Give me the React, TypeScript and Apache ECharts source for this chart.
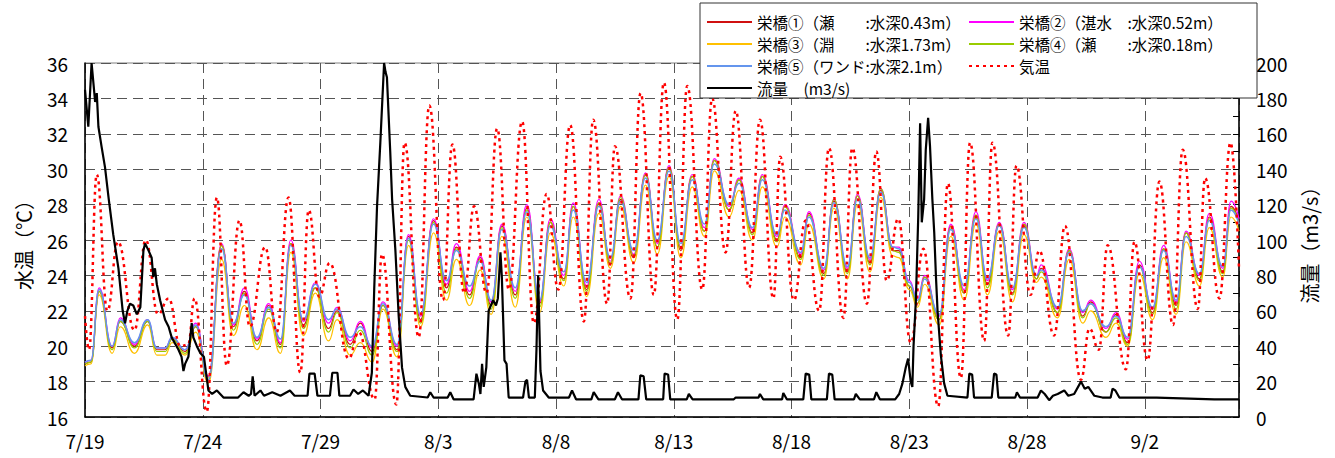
import React, { useEffect, useRef } from "react";
import * as echarts from "echarts";

// x values are days since 7/19 00:00
const xTickLabels = ["7/19", "7/24", "7/29", "8/3", "8/8", "8/13", "8/18", "8/23", "8/28", "9/2"];

const waterTimes = [
  0.0, 0.25, 0.6, 1.15, 1.5, 2.1, 2.66, 3.05, 3.4, 3.7,
  4.25, 4.7, 5.24, 5.8, 6.3, 6.77, 7.3, 7.8, 8.3, 8.74,
  9.27, 9.78, 10.34, 10.7, 11.26, 11.69, 12.19, 12.65, 13.25, 13.74,
  14.25, 14.8, 15.35, 15.77, 16.33, 16.78, 17.25, 17.7, 18.27, 18.76,
  19.3, 19.76, 20.33, 20.73, 21.3, 21.82, 22.31, 22.74, 23.3, 23.8,
  24.3, 24.8, 25.3, 25.78, 26.3, 26.72, 27.35, 27.77, 28.34, 28.76,
  29.38, 29.72, 30.39, 30.74, 31.37, 31.8, 32.37, 32.8, 33.33, 33.79,
  34.3, 34.55, 35.0, 35.35, 35.65, 36.27, 36.76, 37.33, 37.83, 38.32,
  38.82, 39.38, 39.87, 40.4, 40.6, 41.3, 41.79, 42.36, 42.7, 43.35,
  43.78, 44.27, 44.77, 45.33, 45.8, 46.33, 46.75, 47.32, 47.74, 48.31,
  48.66, 49.0,
];

const station1 = [
  19.0, 19.1, 23.1, 19.9, 21.4, 20.0, 21.4, 19.8, 19.8, 20.4,
  19.7, 21.1, 18.3, 25.7, 21.1, 23.1, 20.3, 22.3, 20.1, 25.8,
  21.2, 23.3, 21.0, 22.0, 20.1, 21.3, 19.7, 22.3, 19.8, 26.2,
  21.5, 27.1, 23.3, 25.6, 22.9, 25.0, 22.3, 26.8, 22.9, 27.8,
  22.4, 27.0, 23.8, 27.9, 23.2, 28.1, 24.6, 28.3, 25.0, 29.7,
  25.6, 30.1, 25.4, 29.6, 26.5, 30.5, 27.7, 29.4, 26.4, 29.6,
  26.0, 27.9, 25.0, 27.5, 24.1, 28.2, 24.2, 28.5, 24.7, 28.8,
  25.4, 25.4, 23.4, 22.4, 23.9, 21.5, 26.8, 23.0, 27.4, 23.5,
  26.9, 23.0, 26.8, 23.8, 24.4, 21.9, 25.4, 21.7, 22.5, 20.8,
  21.8, 20.2, 24.6, 21.9, 25.5, 22.3, 26.4, 23.8, 27.3, 24.2,
  27.9, 27.0,
];
const station2 = [
  19.1, 19.2, 23.3, 20.0, 21.6, 20.1, 21.5, 19.9, 19.9, 20.5,
  19.8, 21.3, 18.3, 25.8, 21.2, 23.3, 20.4, 22.4, 20.2, 26.0,
  21.4, 23.6, 21.3, 22.2, 20.3, 21.4, 19.9, 22.5, 20.0, 26.3,
  21.7, 27.2, 23.5, 25.8, 23.1, 25.1, 22.5, 26.9, 23.1, 28.0,
  22.5, 27.2, 24.0, 28.1, 23.4, 28.3, 24.8, 28.5, 25.2, 29.8,
  25.8, 30.2, 25.6, 29.7, 26.7, 30.6, 27.9, 29.5, 26.6, 29.7,
  26.2, 28.0, 25.2, 27.6, 24.3, 28.3, 24.4, 28.6, 24.9, 28.9,
  25.6, 25.6, 23.7, 22.7, 24.0, 21.7, 26.9, 23.2, 27.6, 23.7,
  27.0, 23.2, 27.0, 24.0, 24.6, 22.1, 25.5, 21.9, 22.6, 21.0,
  21.9, 20.4, 24.8, 22.1, 25.7, 22.5, 26.5, 24.0, 27.5, 24.4,
  28.2, 27.2,
];
const station3 = [
  18.9, 19.0, 22.9, 19.6, 21.1, 19.6, 21.2, 19.5, 19.5, 20.2,
  19.5, 20.8, 17.9, 24.9, 20.6, 22.3, 19.8, 21.6, 19.6, 25.3,
  20.6, 23.0, 20.3, 21.5, 19.5, 20.2, 19.1, 22.1, 19.4, 25.7,
  21.1, 26.4, 22.6, 24.9, 22.3, 24.3, 21.8, 26.2, 22.2, 27.3,
  21.9, 26.4, 23.4, 27.3, 22.8, 27.5, 24.4, 27.9, 24.7, 29.1,
  25.2, 29.6, 25.0, 29.0, 26.2, 29.9, 27.3, 28.8, 26.0, 29.0,
  25.6, 27.3, 24.6, 26.9, 23.8, 27.8, 23.8, 28.0, 24.2, 28.4,
  25.1, 25.0, 23.2, 22.2, 23.5, 21.2, 26.2, 22.6, 26.9, 22.9,
  26.5, 22.5, 26.3, 23.6, 23.9, 21.6, 24.9, 21.3, 22.0, 20.5,
  21.3, 20.0, 24.1, 21.5, 25.0, 21.8, 25.9, 23.4, 26.7, 23.9,
  27.3, 26.5,
];
const station4 = [
  19.0, 19.1, 23.1, 19.8, 21.4, 19.9, 21.4, 19.7, 19.7, 20.4,
  19.6, 21.1, 18.2, 25.7, 20.9, 23.0, 20.1, 22.1, 19.9, 25.8,
  21.0, 23.3, 20.8, 21.9, 19.9, 20.9, 19.5, 22.3, 19.7, 26.0,
  21.3, 27.0, 23.0, 25.5, 22.7, 24.9, 22.1, 26.7, 22.7, 27.7,
  22.2, 27.0, 23.7, 27.9, 23.1, 28.1, 24.7, 28.4, 25.1, 29.7,
  25.6, 30.1, 25.5, 29.6, 26.5, 30.5, 27.7, 29.4, 26.3, 29.6,
  25.9, 27.9, 24.9, 27.4, 24.0, 28.3, 24.1, 28.5, 24.6, 28.9,
  25.4, 25.3, 23.4, 22.4, 23.9, 21.5, 26.7, 23.0, 27.4, 23.3,
  26.9, 22.9, 26.9, 23.8, 24.2, 21.9, 25.4, 21.6, 22.4, 20.8,
  21.6, 20.1, 24.5, 21.8, 25.5, 22.1, 26.4, 23.7, 27.2, 24.1,
  27.8, 26.9,
];
const station5 = [
  19.1, 19.2, 23.2, 20.0, 21.5, 20.2, 21.5, 19.9, 19.9, 20.5,
  19.8, 21.2, 18.1, 25.5, 21.3, 22.9, 20.5, 22.2, 20.4, 25.7,
  21.5, 23.5, 21.5, 22.1, 20.5, 21.1, 20.0, 22.4, 20.1, 26.1,
  21.8, 26.9, 23.7, 25.4, 23.4, 24.8, 22.6, 26.6, 23.3, 27.6,
  22.6, 26.8, 24.2, 27.7, 23.6, 27.9, 25.0, 28.2, 25.4, 29.5,
  26.0, 29.9, 25.8, 29.4, 26.9, 30.3, 28.0, 29.2, 26.7, 29.4,
  26.3, 27.7, 25.3, 27.3, 24.4, 28.1, 24.5, 28.3, 25.0, 28.7,
  25.6, 25.5, 23.6, 22.6, 23.8, 21.8, 26.6, 23.4, 27.2, 23.8,
  26.8, 23.3, 26.7, 24.0, 24.3, 22.2, 25.3, 22.0, 22.4, 21.1,
  21.7, 20.5, 24.5, 22.2, 25.4, 22.6, 26.2, 24.1, 27.1, 24.5,
  27.7, 26.9,
];

const airTimes = [
  0.0, 0.17, 0.5, 0.95, 1.4, 2.1, 2.58, 3.1, 3.55, 4.05,
  4.38, 4.65, 5.17, 5.6, 6.02, 6.56, 7.0, 7.65, 8.14, 8.64,
  9.14, 9.5, 9.95, 10.39, 11.2, 11.62, 12.3, 12.61, 13.22, 13.57,
  14.17, 14.62, 15.2, 15.6, 16.1, 16.52, 17.05, 17.5, 18.0, 18.56,
  19.06, 19.6, 20.1, 20.6, 21.18, 21.58, 22.17, 22.5, 23.16, 23.59,
  24.15, 24.58, 25.15, 25.57, 26.21, 26.63, 27.2, 27.63, 28.2, 28.66,
  29.23, 29.52, 30.1, 30.6, 31.17, 31.59, 32.2, 32.58, 33.2, 33.6,
  34.04, 34.53, 35.06, 35.6, 36.23, 36.64, 37.19, 37.58, 38.18, 38.53,
  39.2, 39.55, 40.15, 40.52, 41.15, 41.61, 42.29, 42.65, 43.05, 43.42,
  44.2, 44.56, 45.12, 45.62, 46.2, 46.61, 47.25, 47.56, 48.17, 48.64,
  49.0,
];
const airTemps = [
  21.7, 19.8, 29.7, 22.0, 25.9, 20.9, 26.0, 21.8, 22.7, 20.0,
  20.1, 22.7, 16.3, 28.4, 18.9, 27.1, 21.1, 25.6, 20.8, 28.4,
  18.5, 27.7, 22.8, 24.7, 19.3, 20.8, 17.0, 25.2, 16.7, 31.5,
  20.5, 33.6, 22.6, 31.4, 23.0, 27.9, 23.0, 32.3, 23.2, 32.7,
  21.3, 28.6, 23.2, 32.5, 21.4, 32.8, 22.4, 31.3, 22.7, 34.3,
  22.9, 34.9, 21.5, 34.7, 23.2, 34.0, 25.3, 33.3, 23.3, 32.8,
  22.7, 30.7, 22.6, 27.1, 22.0, 31.2, 21.6, 31.2, 22.4, 31.0,
  23.7, 27.2, 20.2, 25.5, 16.6, 29.2, 18.2, 31.5, 20.3, 31.5,
  20.6, 30.2, 22.9, 25.4, 20.6, 26.8, 18.1, 21.0, 19.8, 25.7,
  18.7, 25.9, 19.2, 29.3, 21.2, 31.1, 22.1, 29.5, 22.7, 31.5,
  24.4,
];

const flowTimes = [
  0.0, 0.14, 0.28, 0.43, 0.5, 0.57, 0.7, 0.85, 1.0, 1.2,
  1.42, 1.6, 1.7, 1.8, 1.91, 2.05, 2.2, 2.35, 2.48, 2.55,
  2.7, 2.83, 2.9, 2.97, 3.05, 3.19, 3.4, 3.55, 3.68, 3.97,
  4.1, 4.18, 4.25, 4.39, 4.53, 4.6, 4.75, 4.9, 5.05, 5.24,
  5.4, 5.6, 5.88, 6.5, 6.73, 6.95, 7.05, 7.12, 7.2, 7.45,
  7.6, 7.95, 8.3, 8.7, 8.9, 9.45, 9.53, 9.75, 9.87, 10.4,
  10.5, 10.72, 10.8, 11.25, 11.4, 11.6, 11.8, 12.04, 12.18, 12.28,
  12.4, 12.54, 12.7, 12.76, 12.82, 12.96, 13.04, 13.18, 13.32, 13.46,
  13.6, 13.81, 14.55, 14.66, 14.8, 15.4, 15.51, 15.65, 16.5, 16.62,
  16.72, 16.79, 16.86, 16.93, 17.04, 17.14, 17.33, 17.45, 17.53, 17.64,
  17.7, 17.81, 17.9, 17.99, 18.6, 18.7, 18.77, 18.85, 19.1, 19.17,
  19.24, 19.34, 19.45, 19.69, 20.55, 20.68, 20.85, 21.5, 21.6, 21.8,
  22.5, 22.63, 22.8, 23.5, 23.58, 23.72, 23.83, 24.55, 24.61, 24.76,
  24.85, 25.55, 25.64, 25.8, 27.55, 27.63, 28.6, 28.66, 28.8, 29.6,
  29.65, 29.8, 30.5, 30.6, 30.75, 30.84, 31.5, 31.59, 31.73, 31.83,
  32.65, 32.73, 32.9, 33.5, 33.6, 33.75, 34.4, 34.57, 34.71, 34.85,
  34.95, 35.06, 35.13, 35.18, 35.28, 35.38, 35.46, 35.53, 35.63, 35.7,
  35.8, 35.88, 35.98, 36.06, 36.13, 36.2, 36.34, 36.48, 36.62, 37.47,
  37.55, 37.67, 37.75, 38.5, 38.6, 38.7, 38.78, 39.5, 39.57, 39.7,
  40.45, 40.59, 40.75, 40.94, 41.1, 41.3, 41.58, 41.75, 42.0, 42.29,
  42.45, 42.6, 42.86, 43.2, 43.55, 43.63, 43.75, 43.92, 45.5, 47.95,
  49.0,
];
const flows = [
  185, 164, 200, 178, 183, 164, 153, 141, 124, 103,
  84, 60, 53, 60, 64, 63, 58, 62, 94, 98,
  94, 90, 79, 84, 75, 66, 55, 51, 45, 38,
  34, 26, 30, 34, 53, 45, 40, 36, 34, 15,
  13, 15, 11, 11, 14, 12, 13, 23, 12, 15,
  12, 14, 12, 15, 12, 12, 24.5, 24.5, 12, 12,
  25, 25, 12, 12, 15.5, 13, 15, 12, 25, 72,
  119, 155, 200, 195, 192, 150, 123, 94, 57, 28,
  17, 12, 11, 14, 11, 11, 14, 10, 10, 24.5,
  19, 13, 30, 17, 28, 60, 66, 63, 67, 93,
  79, 32, 30, 11, 11, 20, 21, 11, 11, 38,
  80, 26, 15, 11, 11, 15, 10, 10, 14, 10,
  10, 14, 10, 10, 23.6, 23, 10, 10, 24.5, 24,
  10, 10, 13, 10, 10, 11, 11, 13, 10, 10,
  13.6, 10, 10, 24.5, 24, 10, 10, 24.5, 24, 10,
  10, 13, 10, 10, 14, 10, 10, 13, 19, 28,
  33, 20, 17, 40, 66, 113, 166, 110, 123, 151,
  169, 153, 123, 104, 80, 60, 35, 19, 12, 11,
  24.5, 24, 11, 11, 24.5, 24, 11, 11, 14, 11,
  11, 15, 13, 9.5, 12, 13, 15, 12, 13, 20,
  16, 17, 12, 11, 11, 16, 15, 11, 11, 10,
  10,
];

const FONT = "'Noto Sans CJK JP', 'Liberation Sans', sans-serif";

function pairs(xs: number[], ys: number[]) {
  return xs.map((x, i) => [x, ys[i]]);
}

export default function App() {
  const ref = useRef<HTMLDivElement>(null);

  useEffect(() => {
    if (!ref.current) return;
    const chart = echarts.init(ref.current, undefined, { renderer: "svg" });

    const waterSeries = (name: string, color: string, values: number[], width: number) => ({
      name,
      type: "line",
      data: pairs(waterTimes, values),
      yAxisIndex: 0,
      symbol: "none",
      smooth: 0.5,
      smoothMonotone: "x",
      lineStyle: { color, width },
      itemStyle: { color },
    });

    const legendBase = {
      orient: "vertical",
      top: 13,
      padding: 0,
      itemWidth: 45,
      itemHeight: 10,
      itemGap: 4,
      z: 10,
      itemStyle: { opacity: 0 },
      textStyle: { fontSize: 15.5, lineHeight: 18, color: "#000", fontFamily: FONT },
    };

    const option: any = {
      animation: false,
      backgroundColor: "#ffffff",
      textStyle: { fontFamily: FONT },
      grid: {
        left: 85,
        right: 96,
        top: 63,
        bottom: 41,
        show: true,
        borderColor: "#808080",
        borderWidth: 1,
      },
      xAxis: {
        type: "value",
        min: 0,
        max: 49,
        interval: 5,
        axisLine: { show: true, lineStyle: { color: "#000", width: 1.5 } },
        axisTick: { show: false },
        axisLabel: {
          color: "#000",
          fontSize: 19,
          fontFamily: FONT,
          margin: 14,
          showMaxLabel: false,
          formatter: (v: number) => (v % 5 === 0 && xTickLabels[v / 5] ? xTickLabels[v / 5] : ""),
        },
        splitLine: { show: true, lineStyle: { color: "#555", type: [10, 6], width: 1 } },
      },
      yAxis: [
        {
          type: "value",
          min: 16,
          max: 36,
          interval: 2,
          name: "水温（℃）",
          nameLocation: "middle",
          nameGap: 52,
          nameTextStyle: { color: "#000", fontSize: 20, fontFamily: FONT },
          axisLine: { show: true, lineStyle: { color: "#000", width: 1.5 } },
          axisTick: { show: false },
          axisLabel: { color: "#000", fontSize: 19, fontFamily: FONT, margin: 17 },
          splitLine: { show: true, lineStyle: { color: "#555", type: [10, 6], width: 1 } },
        },
        {
          type: "value",
          min: 0,
          max: 200,
          interval: 20,
          position: "right",
          name: "流量（m3/s）",
          nameLocation: "middle",
          nameGap: 60,
          nameRotate: 90,
          nameTextStyle: { color: "#000", fontSize: 20, fontFamily: FONT },
          axisLine: { show: true, lineStyle: { color: "#000", width: 1.5 } },
          axisTick: { show: true, inside: true, length: 6, lineStyle: { color: "#000" } },
          minorTick: { show: true, splitNumber: 2, length: 6, lineStyle: { color: "#000" } },
          axisLabel: { color: "#000", fontSize: 19, fontFamily: FONT, margin: 17 },
          splitLine: { show: false },
        },
      ],
      legend: [
        {
          ...legendBase,
          left: 706,
          data: ["栄橋①（瀬　　:水深0.43m）", "栄橋③（淵　　:水深1.73m）", "栄橋⑤（ワンド:水深2.1m）", "流量　(m3/s)"],
        },
        {
          ...legendBase,
          left: 968,
          data: ["栄橋②（湛水　:水深0.52m）", "栄橋④（瀬　　:水深0.18m）", "気温"],
        },
      ],
      graphic: [
        {
          type: "rect",
          z: 5,
          shape: { x: 700, y: 3, width: 557, height: 95 },
          style: { fill: "#ffffff", stroke: "#333", lineWidth: 1 },
        },
      ],
      series: [
        waterSeries("栄橋①（瀬　　:水深0.43m）", "#D01010", station1, 1.2),
        waterSeries("栄橋②（湛水　:水深0.52m）", "#FF00FF", station2, 1.2),
        waterSeries("栄橋③（淵　　:水深1.73m）", "#FFC000", station3, 1.2),
        waterSeries("栄橋④（瀬　　:水深0.18m）", "#99CC00", station4, 1.2),
        waterSeries("栄橋⑤（ワンド:水深2.1m）", "#6495ED", station5, 1.5),
        {
          name: "気温",
          type: "line",
          data: pairs(airTimes, airTemps),
          yAxisIndex: 0,
          symbol: "none",
          smooth: 0.45,
          smoothMonotone: "x",
          lineStyle: { color: "#FF0000", width: 2.5, type: [3, 4], cap: "butt" },
          itemStyle: { color: "#FF0000" },
        },
        {
          name: "流量　(m3/s)",
          type: "line",
          data: pairs(flowTimes, flows),
          yAxisIndex: 1,
          symbol: "none",
          lineStyle: { color: "#000000", width: 2.2 },
          itemStyle: { color: "#000000" },
        },
      ],
    };

    chart.setOption(option);
    return () => chart.dispose();
  }, []);

  return (
    <div
      ref={ref}
      style={{ position: "fixed", left: 0, top: 0, width: 1335, height: 458, background: "#fff" }}
    />
  );
}
